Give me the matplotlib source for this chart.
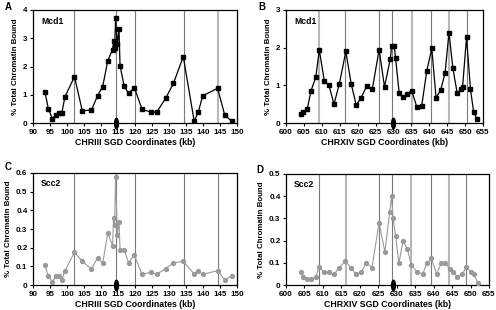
import matplotlib
matplotlib.use('Agg')
import matplotlib.pyplot as plt
from matplotlib.path import Path
from matplotlib.transforms import Affine2D
from matplotlib.ticker import MultipleLocator, FormatStrFormatter

plt.rcParams['font.family'] = ['Liberation Sans', 'DejaVu Sans']
plt.rcParams['font.weight'] = 'bold'
plt.rcParams['axes.labelweight'] = 'bold'

# chromosome III, probe positions (kb)
chr3_kb = [93.5, 94.5, 95.7, 96.8, 97.7, 98.5, 99.4, 102.2, 104.5, 107.2, 109.0, 110.5,
           112.0, 113.4, 113.7, 114.0, 114.3, 114.8, 115.3, 115.6, 116.8, 118.1, 119.8,
           122.1, 124.6, 126.4, 129.0, 131.3, 134.2, 137.4, 138.6, 139.9, 144.3, 146.4, 148.4]
mcd1_chr3 = [1.11, 0.51, 0.15, 0.30, 0.34, 0.37, 0.93, 1.64, 0.43, 0.46, 0.97, 1.29,
             2.21, 2.60, 2.90, 2.65, 3.70, 2.78, 3.32, 2.03, 1.31, 1.05, 1.25,
             0.48, 0.39, 0.39, 0.87, 1.40, 2.35, 0.07, 0.38, 0.96, 1.23, 0.28, 0.07]
scc2_chr3 = [0.107, 0.048, 0.018, 0.048, 0.048, 0.027, 0.077, 0.175, 0.127, 0.086, 0.146, 0.116,
             0.28, 0.21, 0.36, 0.32, 0.58, 0.27, 0.34, 0.19, 0.19, 0.12, 0.16,
             0.057, 0.068, 0.057, 0.088, 0.118, 0.127, 0.059, 0.077, 0.057, 0.077, 0.027, 0.048]

# chromosome XIV, Mcd1 panel
chr14_kb_b = [604.1, 604.8, 605.9, 607.0, 608.3, 609.3, 610.7, 612.0, 613.4, 614.9, 616.7,
              618.2, 619.6, 620.9, 622.5, 624.1, 626.0, 627.5, 629.1, 629.5, 630.2, 630.6,
              631.6, 632.8, 633.9, 635.1, 636.5, 637.9, 639.3, 640.7, 641.9, 643.2, 644.4,
              645.5, 646.6, 647.8, 648.9, 649.3, 650.4, 651.5, 652.4, 653.4]
mcd1_chr14 = [0.23, 0.28, 0.36, 0.86, 1.21, 1.94, 1.11, 1.00, 0.50, 1.04, 1.90,
              1.04, 0.48, 0.66, 0.97, 0.90, 1.95, 0.96, 1.69, 2.05, 2.05, 1.72,
              0.79, 0.68, 0.78, 0.86, 0.43, 0.46, 1.38, 1.98, 0.67, 0.88, 1.32,
              2.40, 1.45, 0.79, 0.89, 0.96, 2.27, 0.90, 0.28, 0.10]

# chromosome XIV, Scc2 panel
chr14_kb_d = [604.0, 604.7, 605.8, 606.8, 608.0, 609.0, 610.4, 611.6, 613.0, 614.4, 616.1,
              617.6, 618.9, 620.3, 621.8, 623.3, 625.2, 626.8, 628.1, 628.6, 629.0, 629.7,
              630.6, 631.7, 632.9, 634.0, 635.4, 637.0, 638.2, 639.4, 640.8, 642.1, 643.2,
              644.4, 645.3, 646.4, 647.7, 648.9, 650.0, 650.9, 652.0]
scc2_chr14 = [0.057, 0.037, 0.025, 0.025, 0.037, 0.079, 0.057, 0.057, 0.048, 0.078, 0.107,
              0.078, 0.048, 0.057, 0.100, 0.078, 0.280, 0.149, 0.330, 0.400, 0.300, 0.220,
              0.097, 0.200, 0.160, 0.090, 0.060, 0.049, 0.097, 0.120, 0.049, 0.100, 0.100,
              0.070, 0.060, 0.037, 0.049, 0.079, 0.060, 0.049, 0.010]

# cohesin sites (vertical lines) and centromeres
sites_a = [102.1, 114.3, 119.9, 134.3, 144.5]
sites_b = [609.1, 616.5, 626.0, 629.7, 635.1, 640.6, 645.5, 650.4]
sites_c = [102.1, 114.3, 119.9, 134.3, 144.5]
sites_d = [609.0, 616.2, 625.2, 628.8, 634.0, 639.4, 644.1, 648.9]
cen3 = 114.4
cen14_b = 629.8
cen14_d = 629.1

light_a = [144.5]
light_b = [609.1, 635.1, 645.5]
light_d = [616.2, 634.0, 644.1]

oval = Path.unit_circle().transformed(Affine2D().scale(0.36, 1.0))


def panel(ax, x, y, sites, light, cen, xlim, ylim, ystep, xlabel, name, color, marker, ms):
    for s in sites:
        if s in light:
            ax.axvline(s, color='#b8b8b8', lw=1.5, zorder=1)
        else:
            ax.axvline(s, color='#7a7a7a', lw=0.8, zorder=1)
    ax.plot(x, y, color=color, lw=0.9 if color == 'black' else 0.8,
            marker=marker, ms=ms, mec=color, mfc=color, zorder=3)
    ax.plot([cen], [0], marker=oval, ms=7.5, color='black', clip_on=False, zorder=5)
    ax.set_xlim(*xlim)
    ax.set_ylim(*ylim)
    ax.xaxis.set_major_locator(MultipleLocator(5))
    ax.yaxis.set_major_locator(MultipleLocator(ystep))
    ax.yaxis.set_major_formatter(FormatStrFormatter('%g'))
    ax.tick_params(labelsize=5.8, length=2.5, width=0.8, pad=1.5)
    for sp in ax.spines.values():
        sp.set_linewidth(0.9)
    ax.set_xlabel(xlabel, fontsize=6.3, labelpad=2)
    ax.set_ylabel('% Total Chromatin Bound', fontsize=5.7, labelpad=3)
    ax.text(0.04, 0.88, name, transform=ax.transAxes, fontsize=6.2, fontweight='bold')


fig = plt.figure(figsize=(4.96, 3.10), dpi=100)
W, H = 496.0, 310.0
ax_a = fig.add_axes([33 / W, 1 - 123 / H, 204 / W, 113 / H])
ax_b = fig.add_axes([286 / W, 1 - 123 / H, 197 / W, 113 / H])
ax_c = fig.add_axes([33 / W, 1 - 285 / H, 204 / W, 112 / H])
ax_d = fig.add_axes([286 / W, 1 - 285 / H, 203 / W, 111 / H])

panel(ax_a, chr3_kb, mcd1_chr3, sites_a, light_a, cen3, (90, 150), (0, 4), 1,
      'CHRIII SGD Coordinates (kb)', 'Mcd1', 'black', 's', 3.0)
panel(ax_b, chr14_kb_b, mcd1_chr14, sites_b, light_b, cen14_b, (600, 655), (0, 3), 1,
      'CHRXIV SGD Coordinates (kb)', 'Mcd1', 'black', 's', 2.6)
panel(ax_c, chr3_kb, scc2_chr3, sites_c, [], cen3, (90, 150), (0, 0.6), 0.1,
      'CHRIII SGD Coordinates (kb)', 'Scc2', '#9a9a9a', 'o', 2.8)
panel(ax_d, chr14_kb_d, scc2_chr14, sites_d, light_d, cen14_d, (600, 655), (0, 0.5), 0.1,
      'CHRXIV SGD Coordinates (kb)', 'Scc2', '#9a9a9a', 'o', 2.8)

for lab, fx, fy in [('A', 5, 7), ('B', 258, 7), ('C', 5, 167), ('D', 256, 170)]:
    fig.text(fx / W, 1 - fy / H, lab, fontsize=7, fontweight='bold', va='center')

fig.savefig('out.png', dpi=100)
